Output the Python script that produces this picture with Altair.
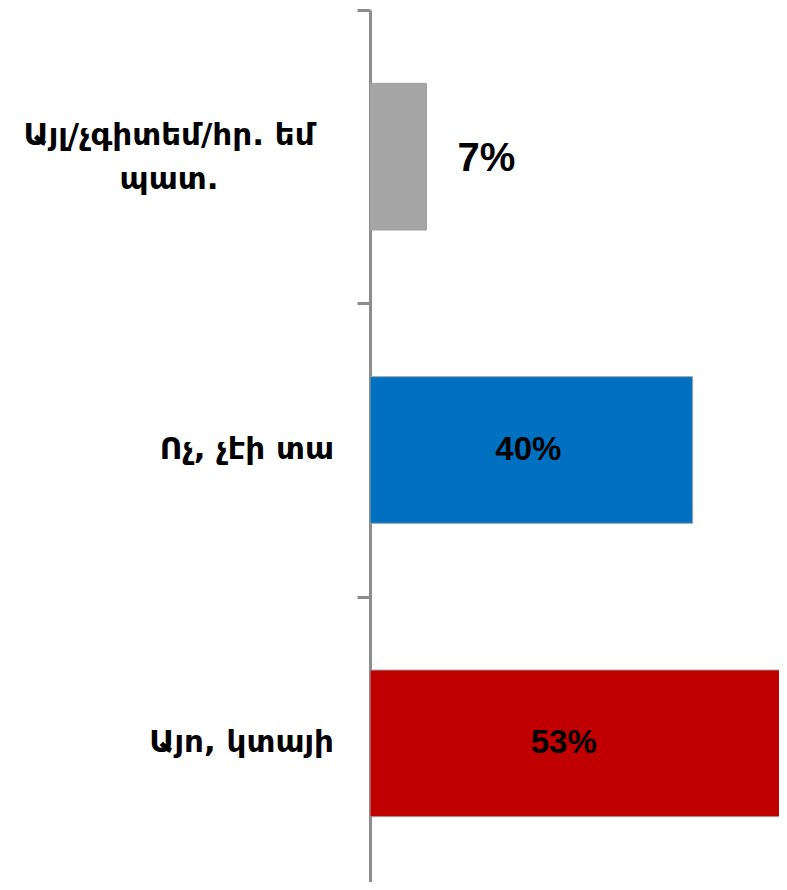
import altair as alt
import pandas as pd

categories = ["Այլ/չգիտեմ/հր. եմ\nպատ.", "Ոչ, չէի տա", "Այո, կտայի"]
values = [7, 40, 53]
colors = ["#A6A6A6", "#0070C0", "#C00000"]
labels = ["7%", "40%", "53%"]

df = pd.DataFrame({"category": categories, "value": values, "label": labels})

y_enc = alt.Y(
    "category:N",
    sort=categories,
    scale=alt.Scale(paddingInner=0, paddingOuter=0),
    axis=alt.Axis(
        title=None,
        labels=False,
        tickBand="extent",
        domainColor="#8C8C8C",
        domainWidth=3,
        tickColor="#8C8C8C",
        tickWidth=3,
        tickSize=13,
        grid=False,
    ),
)
x_scale = alt.Scale(domain=[0, 51.7], nice=False, zero=True)

base = alt.Chart(df)

bars = base.mark_bar(
    stroke="#A0A0A0", strokeWidth=1, clip=True, height=alt.RelativeBandSize(0.5)
).encode(
    y=y_enc,
    x=alt.X("value:Q", scale=x_scale, axis=None),
    color=alt.Color("category:N", scale=alt.Scale(domain=categories, range=colors), legend=None),
)

inside = base.transform_filter("datum.value >= 10").transform_calculate(
    mid="datum.value / 2"
).mark_text(
    font="Liberation Sans", fontWeight="bold", fontSize=33, color="black",
    align="center", baseline="middle",
    dx=alt.expr("datum.value > 50 ? -20 : -3"),
).encode(
    y=alt.Y("category:N", sort=categories),
    x=alt.X("mid:Q", scale=x_scale),
    text="label:N",
)

outside = base.transform_filter("datum.value < 10").mark_text(
    font="Liberation Sans", fontWeight="bold", fontSize=40, color="black",
    align="left", baseline="middle", dx=31, dy=2
).encode(
    y=alt.Y("category:N", sort=categories),
    x=alt.X("value:Q", scale=x_scale),
    text="label:N",
)

ylabels = base.mark_text(
    font="DejaVu Sans", fontWeight="bold", fontSize=31, color="black",
    baseline="middle", lineBreak="\n", lineHeight=44,
    align=alt.expr("indexof(datum.category, '\\n') >= 0 ? 'center' : 'right'"),
    dx=alt.expr("indexof(datum.category, '\\n') >= 0 ? -165 : 0"),
    dy=alt.expr("indexof(datum.category, '\\n') >= 0 ? -21 : 0"),
).encode(
    y=alt.Y("category:N", sort=categories),
    x=alt.value(-36),
    text="category:N",
)

chart = alt.layer(bars, inside, outside, ylabels).properties(
    width=417,
    height=880,
    autosize=alt.AutoSizeParams(type="none"),
    padding={"left": 362, "top": 2, "right": -8, "bottom": -8},
).configure_view(stroke=None)

chart.save("out.html", embed_options={"renderer": "svg", "actions": False})
